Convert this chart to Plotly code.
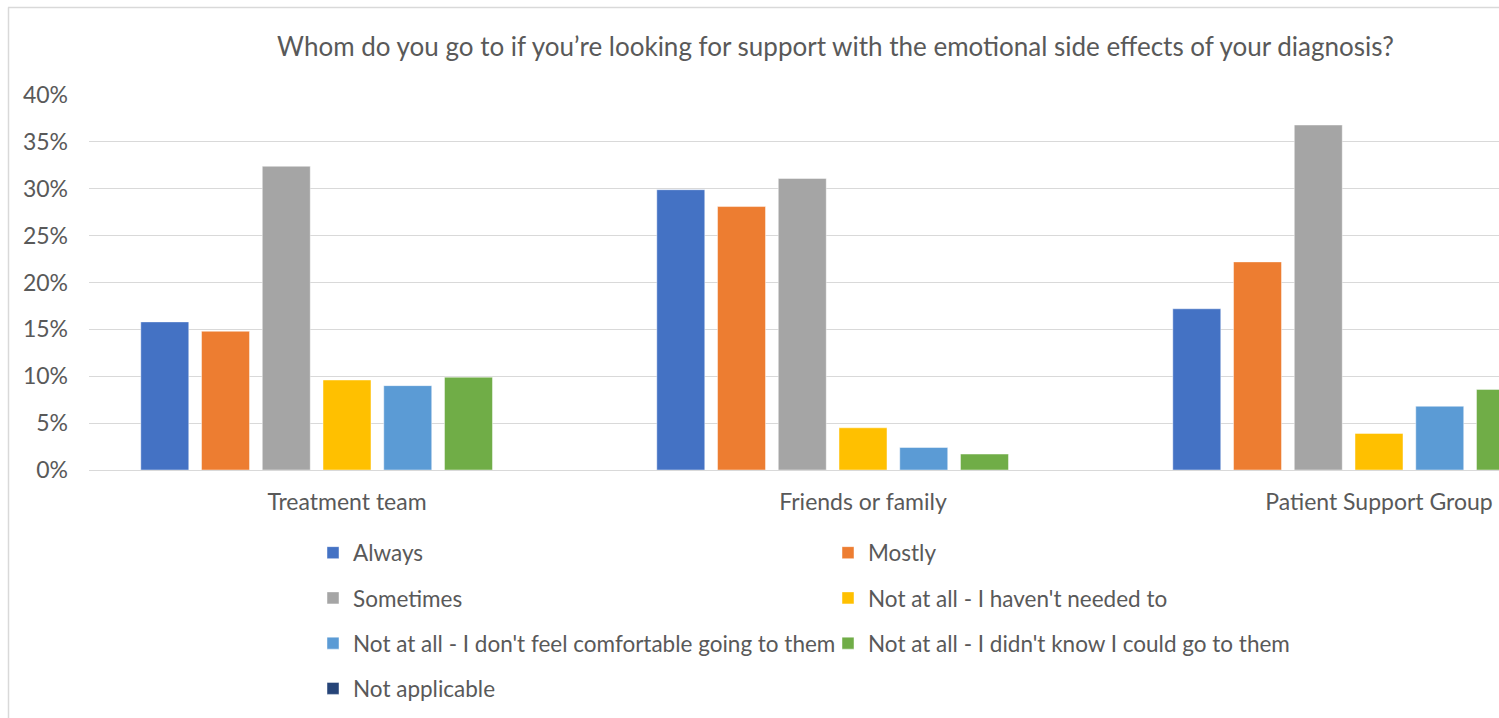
import plotly.graph_objects as go

# Survey responses: share of respondents per source of emotional support
categories = ["Treatment team", "Friends or family", "Patient Support Group"]
series_names = [
    "Always",
    "Mostly",
    "Sometimes",
    "Not at all - I haven't needed to",
    "Not at all - I don't feel comfortable going to them",
    "Not at all - I didn't know I could go to them",
    "Not applicable",
]
always = [0.158, 0.299, 0.172]
mostly = [0.148, 0.281, 0.222]
sometimes = [0.324, 0.311, 0.368]
not_needed = [0.096, 0.045, 0.039]
not_comfortable = [0.090, 0.024, 0.068]
didnt_know = [0.099, 0.017, 0.086]
not_applicable = [0.0, 0.0, 0.0]

series_values = [always, mostly, sometimes, not_needed, not_comfortable,
                 didnt_know, not_applicable]
colors = ["#4472C4", "#ED7D31", "#A5A5A5", "#FFC000", "#5B9BD5", "#70AD47", "#264478"]
y_tick_vals = [0, 0.05, 0.10, 0.15, 0.20, 0.25, 0.30, 0.35, 0.40]
y_tick_text = ["0%", "5%", "10%", "15%", "20%", "25%", "30%", "35%", "40%"]

TEXT = "#595959"
FONT = "Lato"
W, H = 1499, 718
PLOT_L, PLOT_T, PLOT_B = 89, 95, 470
PLOT_W = W - PLOT_L
PLOT_H = PLOT_B - PLOT_T

# legend column: left column gets items 0,2,4,6 ; right column items 1,3,5
legend_of = ["legend", "legend2", "legend", "legend2", "legend", "legend2", "legend"]

x_pos = list(range(len(categories)))

fig = go.Figure()
for i, (name, vals, col) in enumerate(zip(series_names, series_values, colors)):
    fig.add_trace(go.Bar(
        x=x_pos, y=vals, name=name,
        marker=dict(color=col, line=dict(color="rgba(255,255,255,0.45)", width=1)),
        legend=legend_of[i], legendgroup=f"g{i}",
    ))

# one category spans 516 px; the plot runs past the right edge of the page,
# so the last group is cut off
unit = 516.0
x_max = -0.5 + PLOT_W / unit


def px_to_paper_x(px):
    return (px - PLOT_L) / PLOT_W


def px_to_paper_y(py):
    return (PLOT_B - py) / PLOT_H


legend_common = dict(
    orientation="v",
    font=dict(family=FONT, size=22.5, color=TEXT),
    bgcolor="rgba(0,0,0,0)",
    tracegroupgap=13,
    yanchor="top",
    xanchor="left",
    itemclick=False,
)

fig.update_layout(
    width=W, height=H,
    paper_bgcolor="white", plot_bgcolor="white",
    margin=dict(l=PLOT_L, r=0, t=PLOT_T, b=H - PLOT_B, autoexpand=False),
    barmode="group", bargap=0.176, bargroupgap=0.21,
    font=dict(family=FONT, size=22.5, color=TEXT),
    title=dict(
        text="Whom do you go to if you’re looking for support with the emotional side effects of your diagnosis?",
        font=dict(family=FONT, size=26, color=TEXT),
        x=835.5 / W, xref="container", xanchor="center",
        y=1 - 47 / H, yref="container", yanchor="middle",
    ),
    xaxis=dict(
        range=[-0.5, x_max], tickvals=x_pos, ticktext=categories,
        showgrid=False, zeroline=False, showline=True, linecolor="#D9D9D9", linewidth=1,
        ticks="", ticklabelstandoff=11,
        tickfont=dict(family=FONT, size=23, color=TEXT),
    ),
    yaxis=dict(
        range=[0, 0.40], tickvals=y_tick_vals, ticktext=y_tick_text,
        showgrid=True, gridcolor="#D9D9D9", gridwidth=1.3, zeroline=False,
        showline=False, ticks="", ticklabelstandoff=20,
        tickfont=dict(family=FONT, size=23, color=TEXT),
    ),
    legend=dict(legend_common, x=px_to_paper_x(313), y=px_to_paper_y(531.5)),
    legend2=dict(legend_common, x=px_to_paper_x(828), y=px_to_paper_y(531.5)),
    shapes=[
        # chart frame (top and left edges are visible)
        dict(type="line", xref="paper", yref="paper",
             x0=px_to_paper_x(8), x1=px_to_paper_x(W + 5),
             y0=px_to_paper_y(7.5), y1=px_to_paper_y(7.5),
             line=dict(color="#D9D9D9", width=1.5)),
        dict(type="line", xref="paper", yref="paper",
             x0=px_to_paper_x(8.5), x1=px_to_paper_x(8.5),
             y0=px_to_paper_y(7.5), y1=px_to_paper_y(H + 5),
             line=dict(color="#D9D9D9", width=1.5)),
    ],
)

fig.write_html("out.html")
